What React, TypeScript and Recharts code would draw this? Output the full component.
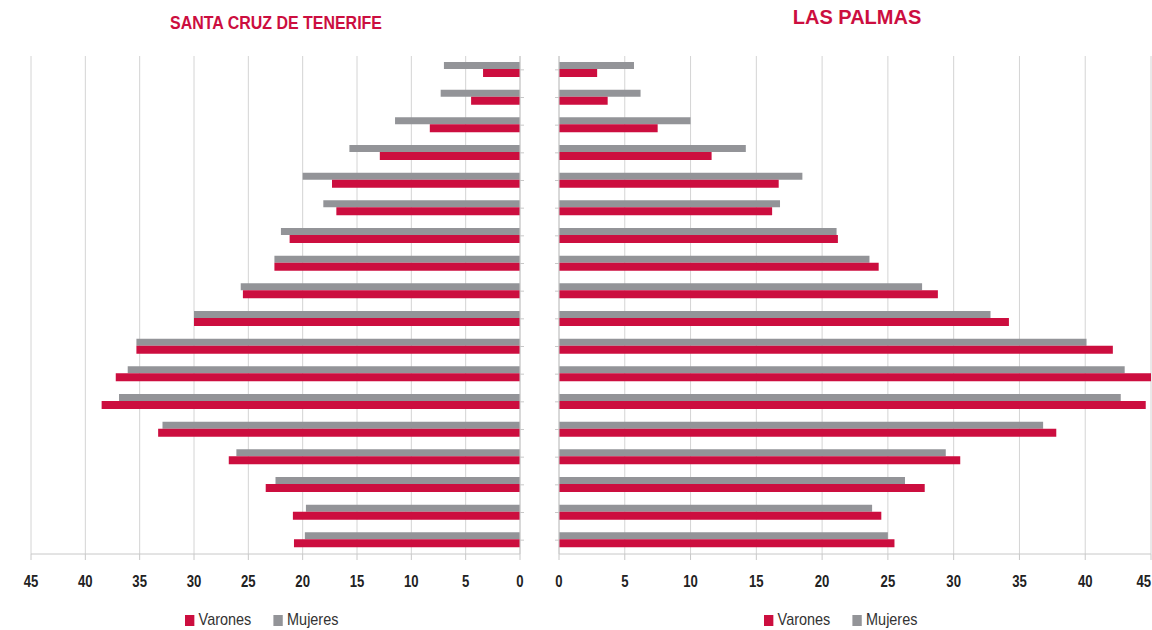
import { Bar, BarChart, CartesianGrid, XAxis, YAxis } from "recharts"

// age groups, oldest at the top
const categories = [
  "85+", "80-84", "75-79", "70-74", "65-69", "60-64", "55-59", "50-54", "45-49",
  "40-44", "35-39", "30-34", "25-29", "20-24", "15-19", "10-14", "5-9", "0-4",
]

const tenerifeMujeres = [7.0, 7.3, 11.5, 15.7, 20.0, 18.1, 22.0, 22.6, 25.7, 30.0, 35.3, 36.1, 36.9, 32.9, 26.1, 22.5, 19.7, 19.8]
const tenerifeVarones = [3.4, 4.5, 8.3, 12.9, 17.3, 16.9, 21.2, 22.6, 25.5, 30.0, 35.3, 37.2, 38.5, 33.3, 26.8, 23.4, 20.9, 20.8]
const palmasMujeres = [5.7, 6.2, 10.0, 14.2, 18.5, 16.8, 21.1, 23.6, 27.6, 32.8, 40.1, 43.0, 42.7, 36.8, 29.4, 26.3, 23.8, 25.0]
const palmasVarones = [2.9, 3.7, 7.5, 11.6, 16.7, 16.2, 21.2, 24.3, 28.8, 34.2, 42.1, 45.1, 44.6, 37.8, 30.5, 27.8, 24.5, 25.5]

const xTicks = [0, 5, 10, 15, 20, 25, 30, 35, 40, 45]

const tenerifeData = categories.map((name, i) => ({ name, mujeres: tenerifeMujeres[i], varones: tenerifeVarones[i] }))
const palmasData = categories.map((name, i) => ({ name, mujeres: palmasMujeres[i], varones: palmasVarones[i] }))

const RED = "#cc0e3f"
const GRAY = "#939498"
const GRID = "#d4d4d4"
const FONT = "'Liberation Sans', Arial, sans-serif"

// condensed bold tick label (no narrow font installed, so squeeze it)
function NarrowTick(props: any) {
  const { x, y, payload, edgeRight } = props
  const anchor = edgeRight && payload.value === 45 ? "end" : "middle"
  return (
    <g transform={`translate(${x},${y})`}>
      <text transform="scale(0.82,1)" textAnchor={anchor} dy="0.71em"
        fontSize={16} fontWeight={700} fill="#222" fontFamily={FONT}>
        {payload.value}
      </text>
    </g>
  )
}

function Legend({ left }: { left: number }) {
  const item = (color: string, label: string) => (
    <div style={{ display: "flex", alignItems: "center", marginRight: 26 }}>
      <div style={{ width: 11, height: 11, background: color, marginRight: 5 }} />
      <span>{label}</span>
    </div>
  )
  return (
    <div
      style={{
        position: "absolute", left, top: 610, display: "flex",
        fontFamily: FONT, fontSize: 17, color: "#333",
        transform: "scaleX(0.85)", transformOrigin: "left center",
      }}
    >
      {item(RED, "Varones")}
      {item(GRAY, "Mujeres")}
    </div>
  )
}

export default function App() {
  return (
    <div style={{ position: "absolute", left: 0, top: 0, width: 1152, height: 630, overflow: "hidden", background: "#fff" }}>
      <div
        style={{
          position: "absolute", left: 0, width: 552, top: 12, textAlign: "center",
          fontFamily: FONT, fontWeight: 700, fontSize: 19, color: RED,
          transform: "scaleX(0.84)", transformOrigin: "276px center",
        }}
      >
        SANTA CRUZ DE TENERIFE
      </div>
      <div
        style={{
          position: "absolute", left: 557, width: 600, top: 6, textAlign: "center",
          fontFamily: FONT, fontWeight: 700, fontSize: 20, color: RED,
        }}
      >
        LAS PALMAS
      </div>

      <div style={{ position: "absolute", left: 0, top: 0 }}>
        <BarChart width={540} height={630} data={tenerifeData} layout="vertical" barGap={0}
          margin={{ top: 56, right: 0, bottom: 36, left: 31 }}>
          <CartesianGrid horizontal={false} stroke={GRID} />
          <XAxis type="number" domain={[0, 45]} ticks={xTicks} reversed height={40}
            axisLine={{ stroke: "#c8c8c8" }} tickLine={{ stroke: "#c8c8c8" }} tickSize={6} tickMargin={16}
            tick={<NarrowTick />} interval={0} />
          <XAxis xAxisId="top" type="number" domain={[0, 45]} reversed orientation="top" height={0}
            axisLine={{ stroke: GRID }} tick={false} tickLine={false} />
          <YAxis type="category" dataKey="name" orientation="right" width={20}
            axisLine={{ stroke: "#c8c8c8" }} tickLine={{ stroke: "#c8c8c8" }} tickSize={4}
            tick={() => <g />} />
          <Bar dataKey="mujeres" name="Mujeres" fill={GRAY} barSize={7} isAnimationActive={false} />
          <Bar dataKey="varones" name="Varones" fill={RED} barSize={8} isAnimationActive={false} />
        </BarChart>
      </div>

      <div style={{ position: "absolute", left: 540, top: 0 }}>
        <BarChart width={612} height={630} data={palmasData} layout="vertical" barGap={0}
          margin={{ top: 56, right: 1, bottom: 36, left: 0 }}>
          <CartesianGrid horizontal={false} stroke={GRID} />
          <XAxis type="number" domain={[0, 45]} ticks={xTicks} allowDataOverflow height={40}
            axisLine={{ stroke: "#c8c8c8" }} tickLine={{ stroke: "#c8c8c8" }} tickSize={6} tickMargin={16}
            tick={<NarrowTick edgeRight />} interval={0} />
          <XAxis xAxisId="top" type="number" domain={[0, 45]} orientation="top" height={0}
            axisLine={{ stroke: GRID }} tick={false} tickLine={false} />
          <YAxis type="category" dataKey="name" width={19}
            axisLine={{ stroke: "#c8c8c8" }} tickLine={{ stroke: "#c8c8c8" }} tickSize={4}
            tick={() => <g />} />
          <Bar dataKey="mujeres" name="Mujeres" fill={GRAY} barSize={7} isAnimationActive={false} />
          <Bar dataKey="varones" name="Varones" fill={RED} barSize={8} isAnimationActive={false} />
        </BarChart>
      </div>

      <Legend left={185} />
      <Legend left={764} />
    </div>
  )
}
